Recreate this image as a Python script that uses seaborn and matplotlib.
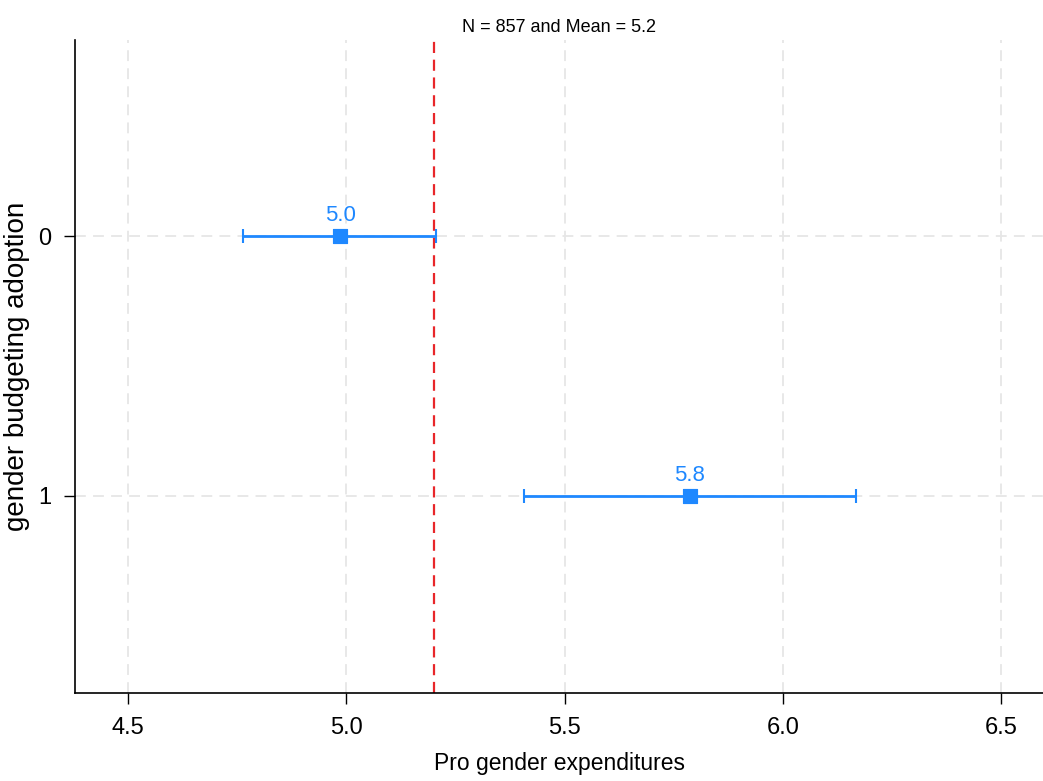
import matplotlib
matplotlib.use("Agg")
import matplotlib.pyplot as plt
import seaborn as sns
import pandas as pd

groups = ["0", "1"]
means = [4.986, 5.787]
ci_low = [4.763, 5.407]
ci_high = [5.206, 6.168]
labels = ["5.0", "5.8"]
overall_mean = 5.2
title = "N = 857 and Mean = 5.2"

sns.set_theme(style="white")
plt.rcParams['font.family'] = ['Liberation Sans', 'DejaVu Sans']
plt.rcParams['text.color'] = 'black'
plt.rcParams['axes.labelcolor'] = 'black'
plt.rcParams['xtick.color'] = 'black'
plt.rcParams['ytick.color'] = 'black'

df = pd.DataFrame({"group": groups, "mean": means, "lo": ci_low, "hi": ci_high, "pos": [0, 1]})

fig = plt.figure(figsize=(10.43, 7.81), dpi=100)
ax = fig.add_axes([0.072, 0.1127, 0.928, 0.836])

color = "#1e88ff"
ax.errorbar(df["mean"], df["pos"],
            xerr=[df["mean"] - df["lo"], df["hi"] - df["mean"]],
            fmt="none", ecolor=color, elinewidth=2, capsize=5, capthick=1.5, zorder=3)
sns.scatterplot(data=df, x="mean", y="pos", marker="s", s=110, color=color,
                edgecolor=color, ax=ax, zorder=4, legend=False)
for x, y, t in zip(df["mean"], df["pos"], labels):
    ax.text(x, y - 0.04, t, color=color, ha="center", va="bottom", fontsize=16)

ax.axvline(overall_mean, color="#e8262a", linestyle=(0, (5, 3)), linewidth=1.6, zorder=2)

ax.set_xlim(4.379, 6.596)
ax.set_ylim(1.758, -0.754)
ax.set_xticks([4.5, 5.0, 5.5, 6.0, 6.5])
ax.set_xticklabels(["4.5", "5.0", "5.5", "6.0", "6.5"])
ax.set_yticks([0, 1])
ax.set_yticklabels(groups)

ax.grid(True, color="#e6e6e6", linestyle=(0, (6, 4)), linewidth=1.3)
ax.set_axisbelow(True)
for s in ["top", "right"]:
    ax.spines[s].set_visible(False)
for s in ["left", "bottom"]:
    ax.spines[s].set_color("black")
    ax.spines[s].set_linewidth(1.2)
ax.tick_params(axis="both", which="major", direction="out", length=8, width=1,
               color="black", labelsize=17, bottom=True, left=True, pad=9)

ax.set_xlabel("Pro gender expenditures", fontsize=16.5, labelpad=10)
ax.set_ylabel("gender budgeting adoption", fontsize=20, labelpad=6)
ax.set_title(title, fontsize=13, pad=6)

fig.savefig("out.png", dpi=100)
